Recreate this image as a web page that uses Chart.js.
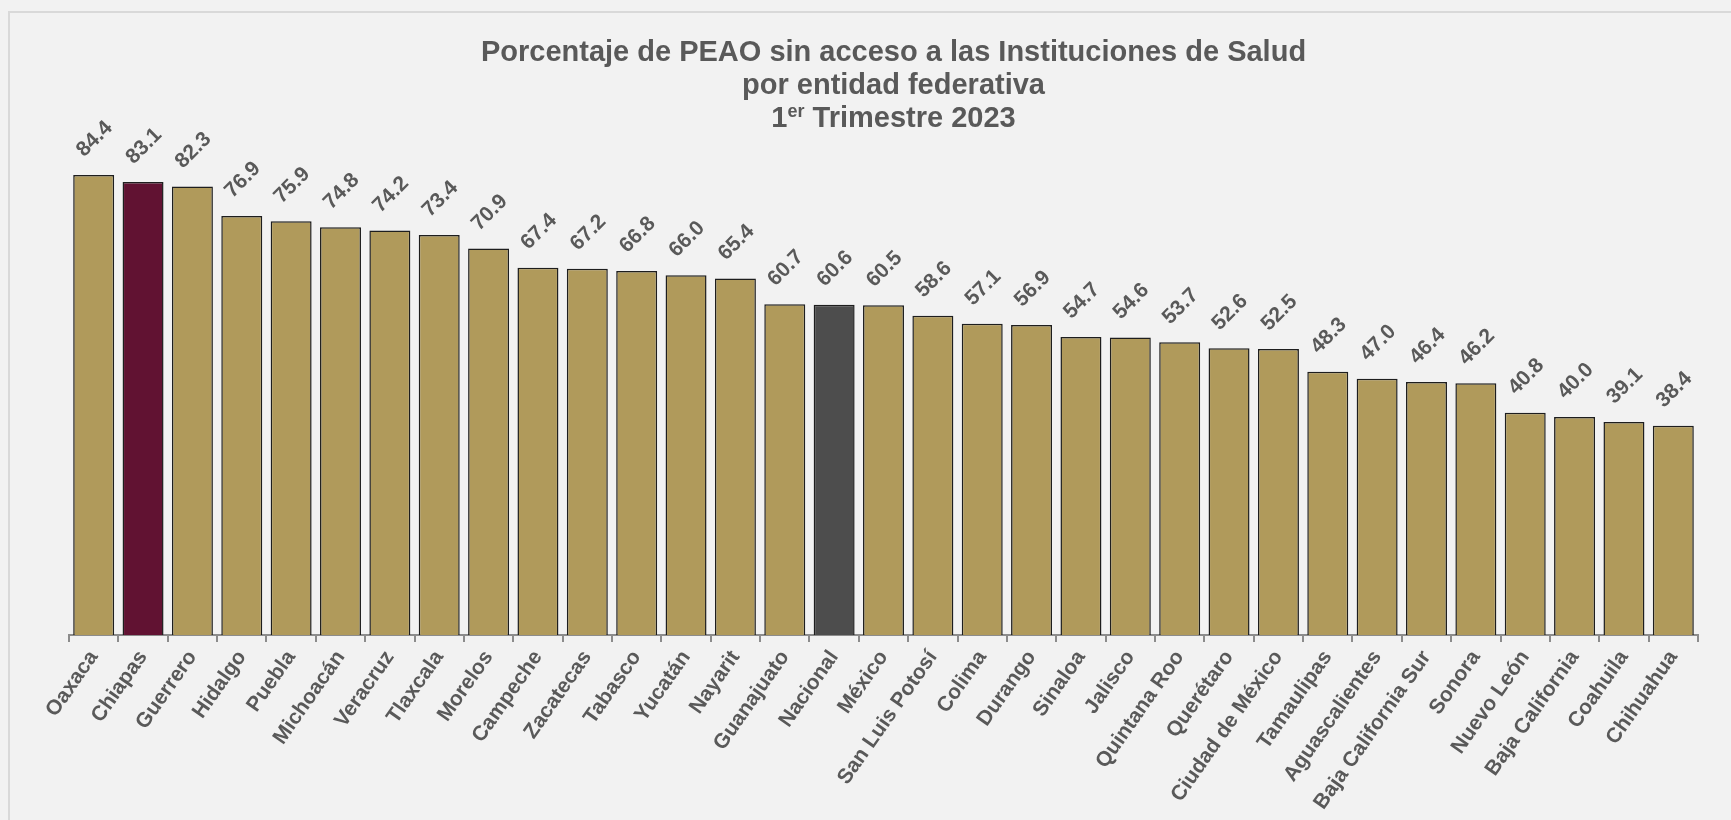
<!DOCTYPE html>
<html>
<head>
<meta charset="utf-8">
<script src="https://cdn.jsdelivr.net/npm/chart.js@4"></script>
<style>
  html, body { margin: 0; padding: 0; background: #f2f2f2; }
  #wrap { position: relative; width: 1731px; height: 820px; }
</style>
</head>
<body>
<div id="wrap"><canvas id="c" width="1731" height="820"></canvas></div>
<script>
const titleLines = ["Porcentaje de PEAO sin acceso a las Instituciones de Salud", "por entidad federativa"];
const titleLast = ["1", "er", " Trimestre 2023"];

const categories = ["Oaxaca","Chiapas","Guerrero","Hidalgo","Puebla","Michoacán","Veracruz","Tlaxcala","Morelos","Campeche","Zacatecas","Tabasco","Yucatán","Nayarit","Guanajuato","Nacional","México","San Luis Potosí","Colima","Durango","Sinaloa","Jalisco","Quintana Roo","Querétaro","Ciudad de México","Tamaulipas","Aguascalientes","Baja California Sur","Sonora","Nuevo León","Baja California","Coahuila","Chihuahua"];

const values = [84.4,83.1,82.3,76.9,75.9,74.8,74.2,73.4,70.9,67.4,67.2,66.8,66.0,65.4,60.7,60.6,60.5,58.6,57.1,56.9,54.7,54.6,53.7,52.6,52.5,48.3,47.0,46.4,46.2,40.8,40.0,39.1,38.4];

const highlightState = "Chiapas";
const nationalLabel = "Nacional";

const GOLD = "#b09a5b", MAROON = "#611232", DARK = "#4d4d4d";
const TEXT = "#595959";
const FONT = "'Liberation Sans', Arial, sans-serif";

const barColors = categories.map(c => c === highlightState ? MAROON : (c === nationalLabel ? DARK : GOLD));

const bgPlugin = {
  id: 'bg',
  beforeDraw(chart) {
    const ctx = chart.ctx;
    ctx.save();
    ctx.fillStyle = '#f2f2f2';
    ctx.fillRect(0, 0, chart.width, chart.height);
    ctx.strokeStyle = '#d9d9d9';
    ctx.lineWidth = 2;
    ctx.beginPath();
    ctx.moveTo(9, chart.height);
    ctx.lineTo(9, 12);
    ctx.lineTo(chart.width, 12);
    ctx.stroke();
    ctx.restore();
  }
};

const titlePlugin = {
  id: 'customTitle',
  afterDraw(chart) {
    const ctx = chart.ctx;
    const ca = chart.chartArea;
    const cx = (ca.left + ca.right) / 2 + 10;
    ctx.save();
    ctx.fillStyle = TEXT;
    ctx.textBaseline = 'alphabetic';
    const big = "bold 29px " + FONT, small = "bold 18px " + FONT;
    ctx.font = big;
    ctx.textAlign = 'center';
    ctx.fillText(titleLines[0], cx, 61);
    ctx.fillText(titleLines[1], cx, 94);
    ctx.textAlign = 'left';
    ctx.font = big; const w1 = ctx.measureText(titleLast[0]).width;
    ctx.font = small; const w2 = ctx.measureText(titleLast[1]).width;
    ctx.font = big; const w3 = ctx.measureText(titleLast[2]).width;
    let x = cx - (w1 + w2 + w3) / 2;
    const y = 127;
    ctx.font = big; ctx.fillText(titleLast[0], x, y); x += w1;
    ctx.font = small; ctx.fillText(titleLast[1], x, y - 10); x += w2;
    ctx.font = big; ctx.fillText(titleLast[2], x, y);
    ctx.restore();
  }
};

const labelPlugin = {
  id: 'barLabels',
  afterDatasetsDraw(chart) {
    const ctx = chart.ctx;
    const meta = chart.getDatasetMeta(0);
    const data = chart.data.datasets[0].data;
    ctx.save();
    ctx.fillStyle = TEXT;
    ctx.font = "bold 21px " + FONT;
    ctx.textAlign = 'center';
    ctx.textBaseline = 'middle';
    meta.data.forEach((bar, i) => {
      ctx.save();
      ctx.translate(bar.x + 1, bar.y - 36);
      ctx.rotate(-Math.PI / 4);
      ctx.fillText(data[i].toFixed(1), 0, 0);
      ctx.restore();
    });
    ctx.restore();
  }
};

new Chart(document.getElementById('c'), {
  type: 'bar',
  data: {
    labels: categories,
    datasets: [{
      data: values,
      backgroundColor: barColors,
      borderColor: '#1e1e1e',
      borderWidth: 1.5,
      barPercentage: 0.83,
      categoryPercentage: 1.0
    }]
  },
  options: {
    responsive: false,
    animation: false,
    layout: { padding: { left: 69, right: 33, top: 90, bottom: 0 } },
    plugins: {
      legend: { display: false },
      title: { display: false },
      tooltip: { enabled: false }
    },
    scales: {
      x: {
        grid: {
          display: true,
          drawOnChartArea: false,
          drawTicks: true,
          tickLength: 7,
          color: '#8c8c8c',
          lineWidth: 2,
          offset: true
        },
        border: { display: true, color: '#8c8c8c', width: 2 },
        ticks: {
          color: TEXT,
          font: { family: FONT, size: 21, weight: 'bold' },
          maxRotation: 55,
          minRotation: 55,
          autoSkip: false,
          padding: 4
        },
        afterFit(scale) { scale.height = 185; }
      },
      y: {
        display: false,
        min: 0,
        max: 100
      }
    }
  },
  plugins: [bgPlugin, titlePlugin, labelPlugin]
});
</script>
</body>
</html>
